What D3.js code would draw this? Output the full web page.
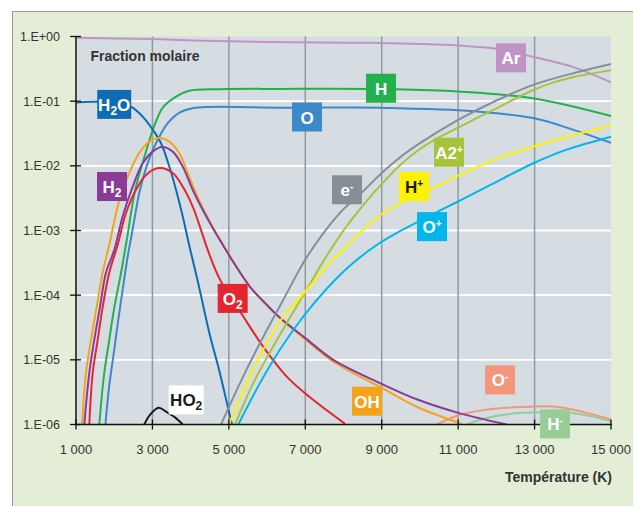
<!DOCTYPE html>
<html><head><meta charset="utf-8">
<script src="https://cdn.jsdelivr.net/npm/d3@7"></script>
<style>
body{margin:0;background:#fff}
svg{display:block}
text{font-family:"Liberation Sans",Arial,Helvetica,sans-serif}
</style>
</head><body>
<svg id="c" width="633" height="506"></svg>
<script>
// ---------- data (temperature K, log10 of mole fraction) ----------
const xTicks = [1000, 3000, 5000, 7000, 9000, 11000, 13000, 15000];
const xTickLabels = ["1 000", "3 000", "5 000", "7 000", "9 000", "11 000", "13 000", "15 000"];
const yTickExp = [0, -1, -2, -3, -4, -5, -6];
const yTickLabels = ["1.E+00", "1.E-01", "1.E-02", "1.E-03", "1.E-04", "1.E-05", "1.E-06"];

const arData = [[1000,-0.02],[3000,-0.04],[4000,-0.06],[6000,-0.085],[8000,-0.095],[9000,-0.10],[10000,-0.115],[11000,-0.14],[12000,-0.19],[13000,-0.32],[14000,-0.47],[15000,-0.71]];
const hData = [[1610,-6.0],[1730,-5.25],[1870,-4.69],[2000,-4.2],[2180,-3.65],[2330,-3.14],[2550,-2.37],[2790,-1.86],[3075,-1.34],[3285,-1.09],[3620,-0.93],[3960,-0.84],[4770,-0.815],[6340,-0.81],[9370,-0.815],[11000,-0.85],[12960,-0.955],[15000,-1.23]];
const oData = [[1770,-6.0],[1870,-5.40],[2000,-4.85],[2090,-4.45],[2220,-3.92],[2350,-3.41],[2440,-3.12],[2530,-2.82],[2675,-2.37],[2935,-1.86],[3180,-1.55],[3400,-1.34],[3700,-1.18],[4050,-1.11],[4480,-1.09],[6340,-1.10],[8950,-1.10],[9480,-1.11],[11000,-1.14],[12960,-1.26],[14000,-1.44],[15000,-1.645]];
const h2oData = [[1000,-1.02],[2150,-1.02],[2480,-1.1],[2745,-1.24],[3007,-1.44],[3224,-1.65],[3442,-2.01],[3617,-2.37],[3792,-2.78],[3983,-3.28],[4185,-3.78],[4488,-4.58],[4750,-5.17],[4970,-5.72],[5082,-6.0]];
const h2Data = [[1217,-6.0],[1348,-5.2],[1479,-4.69],[1628,-4.18],[1785,-3.65],[2002,-3.30],[2222,-2.78],[2484,-2.32],[2745,-1.96],[3007,-1.78],[3250,-1.71],[3531,-1.78],[3792,-2.01],[4054,-2.37],[4316,-2.68],[4577,-2.96],[4839,-3.22],[5161,-3.53],[5553,-3.87],[5946,-4.12],[6338,-4.35],[6993,-4.66],[7733,-5.0],[8955,-5.36],[9916,-5.61],[11005,-5.82],[12270,-6.0]];
const o2Data = [[1348,-6.0],[1437,-5.2],[1568,-4.69],[1699,-4.18],[1871,-3.65],[2091,-3.22],[2308,-2.73],[2570,-2.37],[2832,-2.14],[3180,-2.035],[3531,-2.11],[3792,-2.32],[4054,-2.63],[4271,-2.99],[4446,-3.30],[4768,-3.76],[5378,-4.33],[5901,-4.80],[6514,-5.26],[7123,-5.58],[8040,-5.99]];
const ohData = [[1157,-6.0],[1262,-5.2],[1393,-4.69],[1542,-4.18],[1699,-3.65],[1871,-3.22],[2133,-2.53],[2395,-2.11],[2657,-1.80],[2918,-1.625],[3180,-1.57],[3442,-1.625],[3703,-1.806],[3965,-2.17],[4227,-2.54],[4488,-2.85],[4750,-3.12],[5012,-3.38],[5553,-3.87],[5946,-4.13],[6425,-4.40],[6993,-4.68],[7733,-5.03],[8955,-5.42],[9916,-5.725],[11093,-5.99]];
const ho2Data = [[2787,-6.0],[2936,-5.85],[3164,-5.74],[3355,-5.80],[3591,-5.89],[3792,-6.0]];
const eData = [[4795,-6.0],[5292,-5.36],[5815,-4.74],[6425,-4.07],[7000,-3.45],[7500,-3.02],[8000,-2.67],[8500,-2.40],[9000,-2.11],[9500,-1.86],[10000,-1.65],[11000,-1.29],[12000,-0.99],[13000,-0.74],[14000,-0.57],[15000,-0.425]];
const a2Data = [[5161,-6.0],[5640,-5.36],[6163,-4.79],[6775,-4.17],[7000,-3.95],[7500,-3.45],[8000,-3.00],[8500,-2.62],[9000,-2.28],[9500,-1.98],[10000,-1.74],[10500,-1.56],[11000,-1.41],[11500,-1.26],[12000,-1.11],[12500,-0.96],[13000,-0.82],[13500,-0.71],[14000,-0.63],[15000,-0.52]];
const hpData = [[5000,-6.0],[5467,-5.36],[5901,-4.84],[6425,-4.33],[7036,-3.92],[7647,-3.50],[8170,-3.19],[8607,-2.94],[9042,-2.73],[9478,-2.58],[10000,-2.43],[10350,-2.34],[11224,-2.09],[12096,-1.87],[12968,-1.70],[13841,-1.55],[15000,-1.38]];
const opData = [[5247,-6.0],[5815,-5.36],[6338,-4.84],[6948,-4.33],[7561,-3.90],[8257,-3.50],[8955,-3.19],[9478,-3.01],[10700,-2.64],[11224,-2.485],[12096,-2.22],[12968,-1.96],[13841,-1.75],[15000,-1.55]];
const omData = [[10440,-6.0],[11050,-5.85],[11750,-5.77],[12620,-5.73],[13490,-5.72],[13930,-5.76],[14360,-5.82],[15000,-5.92]];
const hmData = [[11224,-6.0],[11750,-5.90],[12440,-5.83],[13140,-5.81],[13930,-5.82],[14450,-5.87],[15000,-5.95]];

// ---------- series definitions ----------
const series = [
  {id:"Ar",  data:arData,  color:"#bf94c5"},
  {id:"O-",  data:omData,  color:"#f4967b"},
  {id:"H-",  data:hmData,  color:"#98cd98"},
  {id:"H",   data:hData,   color:"#22b14c"},
  {id:"O",   data:oData,   color:"#3c88c9"},
  {id:"H2O", data:h2oData, color:"#0e6cb2"},
  {id:"OH",  data:ohData,  color:"#f5a31a"},
  {id:"H2",  data:h2Data,  color:"#8a3a97"},
  {id:"O2",  data:o2Data,  color:"#e52530"},
  {id:"HO2", data:ho2Data, color:"#1a1a1a"},
  {id:"e",   data:eData,   color:"#858f96"},
  {id:"A2",  data:a2Data,  color:"#a5c43a"},
  {id:"H+",  data:hpData,  color:"#fff200"},
  {id:"O+",  data:opData,  color:"#00b6ea"}
];

// label boxes: anchor in data coordinates (T, log10), text parts
const labels = [
  {T:2000,  v:-1.05, w:34, bg:"#0e6cb2", fg:"#fff", parts:[["H",0],["2",1],["O",0]]},
  {T:1942,  v:-2.32, w:30, bg:"#8a3a97", fg:"#fff", parts:[["H",0],["2",1]]},
  {T:3884,  v:-5.62, w:35, bg:"#ffffff", fg:"#1a1a1a", parts:[["HO",0],["2",1]]},
  {T:5100,  v:-4.05, w:30, bg:"#e52530", fg:"#fff", parts:[["O",0],["2",1]]},
  {T:8615,  v:-5.64, w:30, bg:"#f5a31a", fg:"#fff", parts:[["OH",0]]},
  {T:12096, v:-5.31, w:30, bg:"#f4967b", fg:"#fff", parts:[["O",0],["-",2]]},
  {T:13535, v:-5.99, w:30, bg:"#98cd98", fg:"#fff", parts:[["H",0],["-",2]]},
  {T:12383, v:-0.33, w:30, bg:"#bf94c5", fg:"#fff", parts:[["Ar",0]]},
  {T:8982,  v:-0.80, w:30, bg:"#22b14c", fg:"#fff", parts:[["H",0]]},
  {T:7045,  v:-1.245,w:30, bg:"#3c88c9", fg:"#fff", parts:[["O",0]]},
  {T:10761, v:-1.79, w:30, bg:"#a5c43a", fg:"#fff", parts:[["A2",0],["+",2]]},
  {T:8092,  v:-2.37, w:30, bg:"#858f96", fg:"#fff", parts:[["e",0],["-",2]]},
  {T:9845,  v:-2.32, w:30, bg:"#fff200", fg:"#1a1a1a", parts:[["H",0],["+",2]]},
  {T:10316, v:-2.94, w:30, bg:"#00b6ea", fg:"#fff", parts:[["O",0],["+",2]]}
];

// ---------- drawing ----------
const svg = d3.select("#c");
const W = 633, H = 506;
const plot = {left:76, right:611, top:36.5, bottom:424.5};

const x = d3.scaleLinear().domain([1000, 15000]).range([plot.left, plot.right]);
const y = d3.scaleLog().domain([1e-6, 1]).range([plot.bottom, plot.top]);
const yv = v => y(Math.pow(10, v));

// outer frame
svg.append("rect").attr("x",12).attr("y",11).attr("width",W-12).attr("height",H-11).attr("fill","#e4edd6");
svg.append("line").attr("x1",12).attr("x2",W).attr("y1",11.5).attr("y2",11.5).attr("stroke","#9a9a9a").attr("stroke-width",1);
svg.append("line").attr("x1",12.5).attr("x2",12.5).attr("y1",11).attr("y2",H).attr("stroke","#9a9a9a").attr("stroke-width",1);

// plot background
svg.append("rect").attr("x",plot.left).attr("y",plot.top).attr("width",plot.right-plot.left).attr("height",plot.bottom-plot.top).attr("fill","#d5dde3");

// horizontal white grid
svg.append("g").selectAll("line").data(yTickExp.filter(e => e < 0 && e > -6)).join("line")
  .attr("x1",plot.left).attr("x2",plot.right)
  .attr("y1",d => yv(d)).attr("y2",d => yv(d))
  .attr("stroke","#ffffff").attr("stroke-width",1.8);

// vertical grid
svg.append("g").selectAll("line").data(xTicks.slice(1, -1)).join("line")
  .attr("x1",d => x(d)).attr("x2",d => x(d))
  .attr("y1",plot.top).attr("y2",plot.bottom)
  .attr("stroke","#8f999f").attr("stroke-width",1.5);

// clip
svg.append("clipPath").attr("id","clip").append("rect")
  .attr("x",plot.left).attr("y",plot.top-2).attr("width",plot.right-plot.left+1).attr("height",plot.bottom-plot.top+2);

const line = d3.line().x(d => x(d[0])).y(d => yv(d[1])).curve(d3.curveCatmullRom.alpha(0.5));
svg.append("g").attr("clip-path","url(#clip)").selectAll("path").data(series).join("path")
  .attr("d", d => line(d.data))
  .attr("fill","none")
  .attr("stroke", d => d.color)
  .attr("stroke-width", 2)
  .attr("stroke-linejoin","round");

// axes
const axG = svg.append("g");
axG.append("line").attr("x1",plot.left).attr("x2",plot.left).attr("y1",plot.top).attr("y2",plot.bottom)
  .attr("stroke","#111").attr("stroke-width",1.5);
axG.append("line").attr("x1",plot.left).attr("x2",plot.right+1).attr("y1",plot.bottom).attr("y2",plot.bottom)
  .attr("stroke","#111").attr("stroke-width",1.5);
axG.selectAll(".yt").data(yTickExp).join("line")
  .attr("x1",plot.left-6).attr("x2",plot.left+5)
  .attr("y1",d => yv(d)).attr("y2",d => yv(d))
  .attr("stroke","#111").attr("stroke-width",1.3);
axG.selectAll(".xt").data(xTicks).join("line")
  .attr("x1",d => x(d)).attr("x2",d => x(d))
  .attr("y1",plot.bottom-5).attr("y2",plot.bottom+5)
  .attr("stroke","#111").attr("stroke-width",1.3);

svg.append("g").selectAll("text").data(yTickExp).join("text")
  .attr("x",60).attr("y",d => yv(d)).attr("dy","0.36em")
  .attr("text-anchor","end").attr("font-size",12.5).attr("fill","#333")
  .text((d,i) => yTickLabels[i]);

svg.append("g").selectAll("text").data(xTicks).join("text")
  .attr("x",d => x(d)).attr("y",454)
  .attr("text-anchor","middle").attr("font-size",13).attr("fill","#333")
  .text((d,i) => xTickLabels[i]);

svg.append("text").attr("x",90.5).attr("y",60.5).attr("font-size",14).attr("font-weight","bold").attr("fill","#333")
  .text("Fraction molaire");
svg.append("text").attr("x",612).attr("y",482).attr("text-anchor","end").attr("font-size",14).attr("font-weight","bold").attr("fill","#333")
  .text("Température (K)");

// label boxes
const lg = svg.append("g").selectAll("g").data(labels).join("g")
  .attr("transform", d => `translate(${x(d.T)},${yv(d.v)})`);
lg.append("rect")
  .attr("x", d => -d.w/2).attr("y",-14.5).attr("width", d => d.w).attr("height",29)
  .attr("fill", d => d.bg);
const lt = lg.append("text").attr("text-anchor","middle").attr("y",6.5)
  .attr("font-size",17).attr("font-weight","bold").attr("fill", d => d.fg);
lt.each(function(d){
  const t = d3.select(this);
  let shift = 0;
  d.parts.forEach(p => {
    const [txt, kind] = p;
    const ts = t.append("tspan").text(txt);
    if (kind === 1) { ts.attr("font-size",12).attr("dy", 4 - shift); shift = 4; }
    else if (kind === 2) { ts.attr("font-size",10).attr("dy", -6 - shift); shift = -6; }
    else { if (shift !== 0) ts.attr("dy", -shift); shift = 0; }
  });
});
</script>
</body></html>
